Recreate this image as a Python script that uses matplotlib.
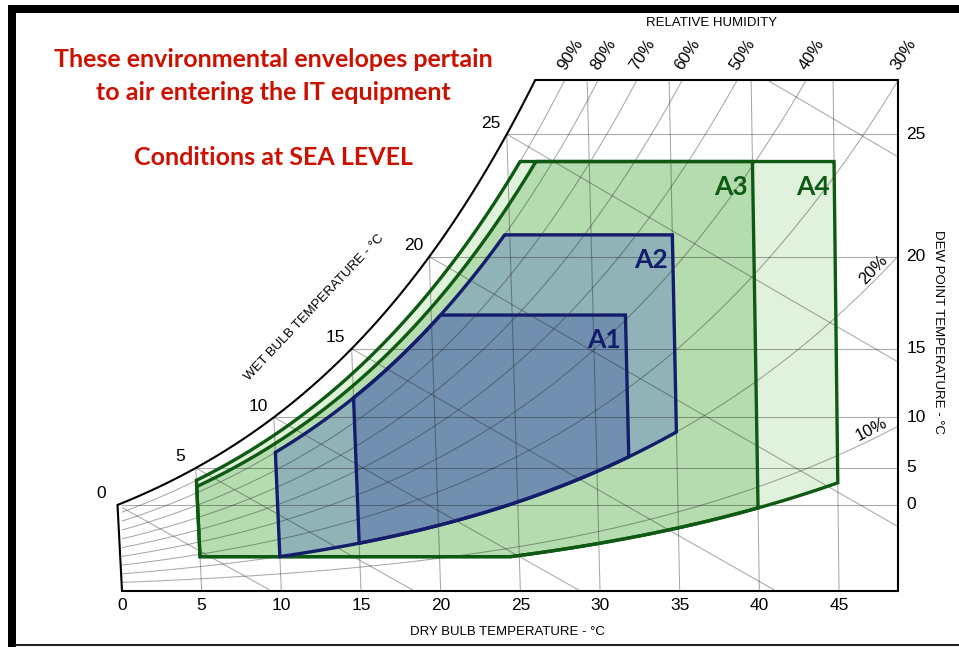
"""
plot.py
-------
ASHRAE thermal envelopes (A1-A4) for air entering IT equipment, drawn on a
sea-level psychrometric chart.
"""

import numpy as np
import matplotlib.pyplot as plt
from matplotlib.patches import Polygon, Rectangle
from matplotlib.lines import Line2D


# ---------------------------------------------------------------------------
# Chart data
# ---------------------------------------------------------------------------

P_ATM = 101.325          # kPa, sea level
X_MAX = 48.7             # dry bulb at the right border, degC
W_MAX = 22.41            # humidity ratio at the top border, g/kg

DB_TICKS = [0, 5, 10, 15, 20, 25, 30, 35, 40, 45]
DP_TICKS = [0, 5, 10, 15, 20, 25]
WB_TICKS = [0, 5, 10, 15, 20, 25]
WB_LINES = [0, 5, 10, 15, 20, 25, 30]
RH_LINES = [10, 20, 30, 40, 50, 60, 70, 80, 90]
RH_TOP_LABELS = [90, 80, 70, 60, 50, 40, 30]
RH_SIDE_LABELS = [20, 10]

# envelopes, drawn from the widest to the narrowest
ENV_NAMES = ["A4", "A3", "A2", "A1"]
ENV_DB_MIN = [5, 5, 10, 15]
ENV_DB_MAX = [45, 40, 35, 32]
ENV_DP_MIN = [-12, -12, -12, -12]
ENV_DP_MAX = [24, 24, 21, 17]
ENV_RH_MIN = [8, 8, 20, 20]
ENV_RH_MAX = [90, 85, 80, 80]
ENV_FILL = ["#e0f2dc", "#b5dcaf", "#90b3b7", "#7190b0"]
ENV_EDGE = ["#0e5a12", "#0e5a12", "#131d6c", "#131d6c"]

TITLE_LINES = ["These environmental envelopes pertain",
               "to air entering the IT equipment",
               "Conditions at SEA LEVEL"]


# ---------------------------------------------------------------------------
# Psychrometrics
# ---------------------------------------------------------------------------

def p_ws(t):
    return 0.61094 * np.exp(17.625 * t / (t + 243.04))


def t_from_p(pw):
    a = np.log(pw / 0.61094)
    return 243.04 * a / (17.625 - a)


def w_from_pw(pw):
    return 622.0 * pw / (P_ATM - pw)


def pw_from_w(w):
    return w * P_ATM / (622.0 + w)


def w_rh(t, rh):
    return w_from_pw(rh / 100.0 * p_ws(t))


def w_dp(td):
    return w_from_pw(p_ws(td))


def w_wb(t, twb):
    ws = w_dp(twb) / 1000.0
    w = ((2501 - 2.326 * twb) * ws - 1.006 * (t - twb)) / (2501 + 1.86 * t - 4.186 * twb)
    return w * 1000.0


def skew(t, w):
    # dry bulb lines lean slightly to the left as humidity rises
    return t - (0.0747 - 0.00129 * t) * w


# ---------------------------------------------------------------------------
# Figure
# ---------------------------------------------------------------------------

W_PX, H_PX = 959, 647
fig = plt.figure(figsize=(W_PX / 100, H_PX / 100), dpi=100)
fig.patch.set_facecolor("white")

ax = fig.add_axes([122 / W_PX, 1 - 591 / H_PX, 776 / W_PX, 511 / H_PX])
ax.set_xlim(0, X_MAX)
ax.set_ylim(0, W_MAX)
ax.axis("off")

AX_FONT = "Liberation Sans"
RED_FONT = "Lato"

# chart outline: left border, saturation curve, top and right borders
t_top = t_from_p(pw_from_w(W_MAX))
t_sat = np.linspace(0, t_top, 300)
w_sat = w_dp(t_sat)
out_x = np.concatenate([[skew(0, 0)], skew(t_sat, w_sat), [X_MAX, X_MAX]])
out_y = np.concatenate([[0], w_sat, [W_MAX, 0]])
outline = Polygon(np.column_stack([out_x, out_y]), closed=True,
                  facecolor="none", edgecolor="black", lw=1.5, zorder=4,
                  clip_on=False)
ax.add_patch(outline)

# envelope fills
env_polys = []
for i in range(len(ENV_NAMES)):
    tt = np.linspace(ENV_DB_MIN[i], ENV_DB_MAX[i], 600)
    lo = np.maximum(w_rh(tt, ENV_RH_MIN[i]), w_dp(ENV_DP_MIN[i]))
    hi = np.minimum(w_rh(tt, ENV_RH_MAX[i]), w_dp(ENV_DP_MAX[i]))
    t_all = np.concatenate([tt, tt[::-1]])
    w_all = np.concatenate([lo, hi[::-1]])
    xy = np.column_stack([skew(t_all, w_all), w_all])
    env_polys.append((xy, ENV_DB_MAX[i], hi[-1]))
    ax.add_patch(Polygon(xy, closed=True, facecolor=ENV_FILL[i],
                         edgecolor="none", zorder=1))

# grid lines, clipped to the chart outline
grid_kw = dict(color="#1a1a1a", alpha=0.38, lw=0.75, zorder=2)
grid = []
for t in DB_TICKS[1:]:
    ww = np.array([0, W_MAX])
    grid += ax.plot(skew(t, ww), ww, **grid_kw)
for td in DP_TICKS:
    w = w_dp(td)
    grid += ax.plot([0, X_MAX], [w, w], **grid_kw)
for rh in RH_LINES:
    tt = np.linspace(0, 60, 400)
    ww = w_rh(tt, rh)
    grid += ax.plot(skew(tt, ww), ww, **grid_kw)
for twb in WB_LINES:
    tt = np.linspace(twb, 70, 400)
    ww = w_wb(tt, twb)
    grid += ax.plot(skew(tt, ww), ww, **grid_kw)
for ln in grid:
    ln.set_clip_path(outline)

# envelope outlines and names
for i, (xy, t_corner, w_corner) in enumerate(env_polys):
    ax.add_patch(Polygon(xy, closed=True, facecolor="none",
                         edgecolor=ENV_EDGE[i], lw=2.4, zorder=3,
                         joinstyle="miter"))
    ax.annotate(ENV_NAMES[i], (skew(t_corner, w_corner), w_corner),
                xytext=(-15.5, -18), textcoords="offset points",
                ha="center", va="center", fontsize=19, fontweight="bold",
                family=RED_FONT, color=ENV_EDGE[i], zorder=5,
                annotation_clip=False)

# dry bulb tick labels
for t in DB_TICKS:
    ax.annotate(str(t), (skew(t, 0), 0), xytext=(0, -5),
                textcoords="offset points", ha="center", va="top",
                fontsize=12.5, family=AX_FONT, annotation_clip=False)

# dew point tick labels
for td in DP_TICKS:
    ax.annotate(str(td), (X_MAX, w_dp(td)), xytext=(6, 0),
                textcoords="offset points", ha="left", va="center",
                fontsize=12.5, family=AX_FONT, annotation_clip=False)

# wet bulb labels along the saturation curve
for twb in WB_TICKS:
    ws = w_dp(twb)
    ax.annotate(str(twb), (skew(twb, ws), ws), xytext=(-11.5, 8),
                textcoords="offset points", ha="center", va="center",
                fontsize=12.5, family=AX_FONT, annotation_clip=False)

# relative humidity labels on the top border
for rh in RH_TOP_LABELS:
    t_exit = t_from_p(pw_from_w(W_MAX) / (rh / 100.0))
    x_exit = min(skew(t_exit, W_MAX), X_MAX)
    ax.annotate(f"{rh}%", (x_exit, W_MAX), xytext=(2, 5),
                textcoords="offset points", ha="left", va="bottom",
                rotation=57, rotation_mode="anchor",
                fontsize=12, family=AX_FONT, annotation_clip=False)

# relative humidity labels on the right border
for rh in RH_SIDE_LABELS:
    tt = np.linspace(0, 60, 4000)
    ww = w_rh(tt, rh)
    xx = skew(tt, ww)
    k = np.argmin(np.abs(xx - (X_MAX - 0.5)))
    p0 = ax.transData.transform((xx[k - 20], ww[k - 20]))
    p1 = ax.transData.transform((xx[k + 20], ww[k + 20]))
    ang = np.degrees(np.arctan2(p1[1] - p0[1], p1[0] - p0[0]))
    ax.annotate(f"{rh}%", (xx[k], ww[k]), xytext=(0, 1.5),
                textcoords="offset points", ha="right", va="bottom",
                rotation=ang, rotation_mode="anchor",
                fontsize=12, family=AX_FONT, annotation_clip=False)

# axis titles
fig.text(712 / W_PX, 1 - 26 / H_PX, "RELATIVE HUMIDITY", ha="center",
         va="baseline", fontsize=9.5, family=AX_FONT)
fig.text(507 / W_PX, 1 - 632 / H_PX, "DRY BULB TEMPERATURE - °C", ha="center",
         va="center", fontsize=9.5, family=AX_FONT)
fig.text(938 / W_PX, 1 - 332 / H_PX, "DEW POINT TEMPERATURE - °C", ha="center",
         va="center", rotation=-90, fontsize=9.5, family=AX_FONT)
fig.text(314 / W_PX, 1 - 308 / H_PX, "WET BULB TEMPERATURE - °C", ha="center",
         va="center", rotation=46.5, rotation_mode="anchor", fontsize=9.5,
         family=AX_FONT)

# red notes
for line, base in zip(TITLE_LINES, [67, 100, 165]):
    fig.text(273 / W_PX, 1 - base / H_PX, line, ha="center", va="baseline",
             fontsize=18, fontweight="bold", family=RED_FONT, color="#cc1100")

# black frame
fig.add_artist(Rectangle((8 / W_PX, 0), 8 / W_PX, (H_PX - 5) / H_PX,
                         transform=fig.transFigure, color="black", lw=0))
fig.add_artist(Rectangle((8 / W_PX, 1 - 13 / H_PX), 1, 8 / H_PX,
                         transform=fig.transFigure, color="black", lw=0))
fig.add_artist(Line2D([16 / W_PX, 1], [1 - 645 / H_PX] * 2,
                      transform=fig.transFigure, color="#222222", lw=1.5))

fig.savefig("out.png", dpi=100)
